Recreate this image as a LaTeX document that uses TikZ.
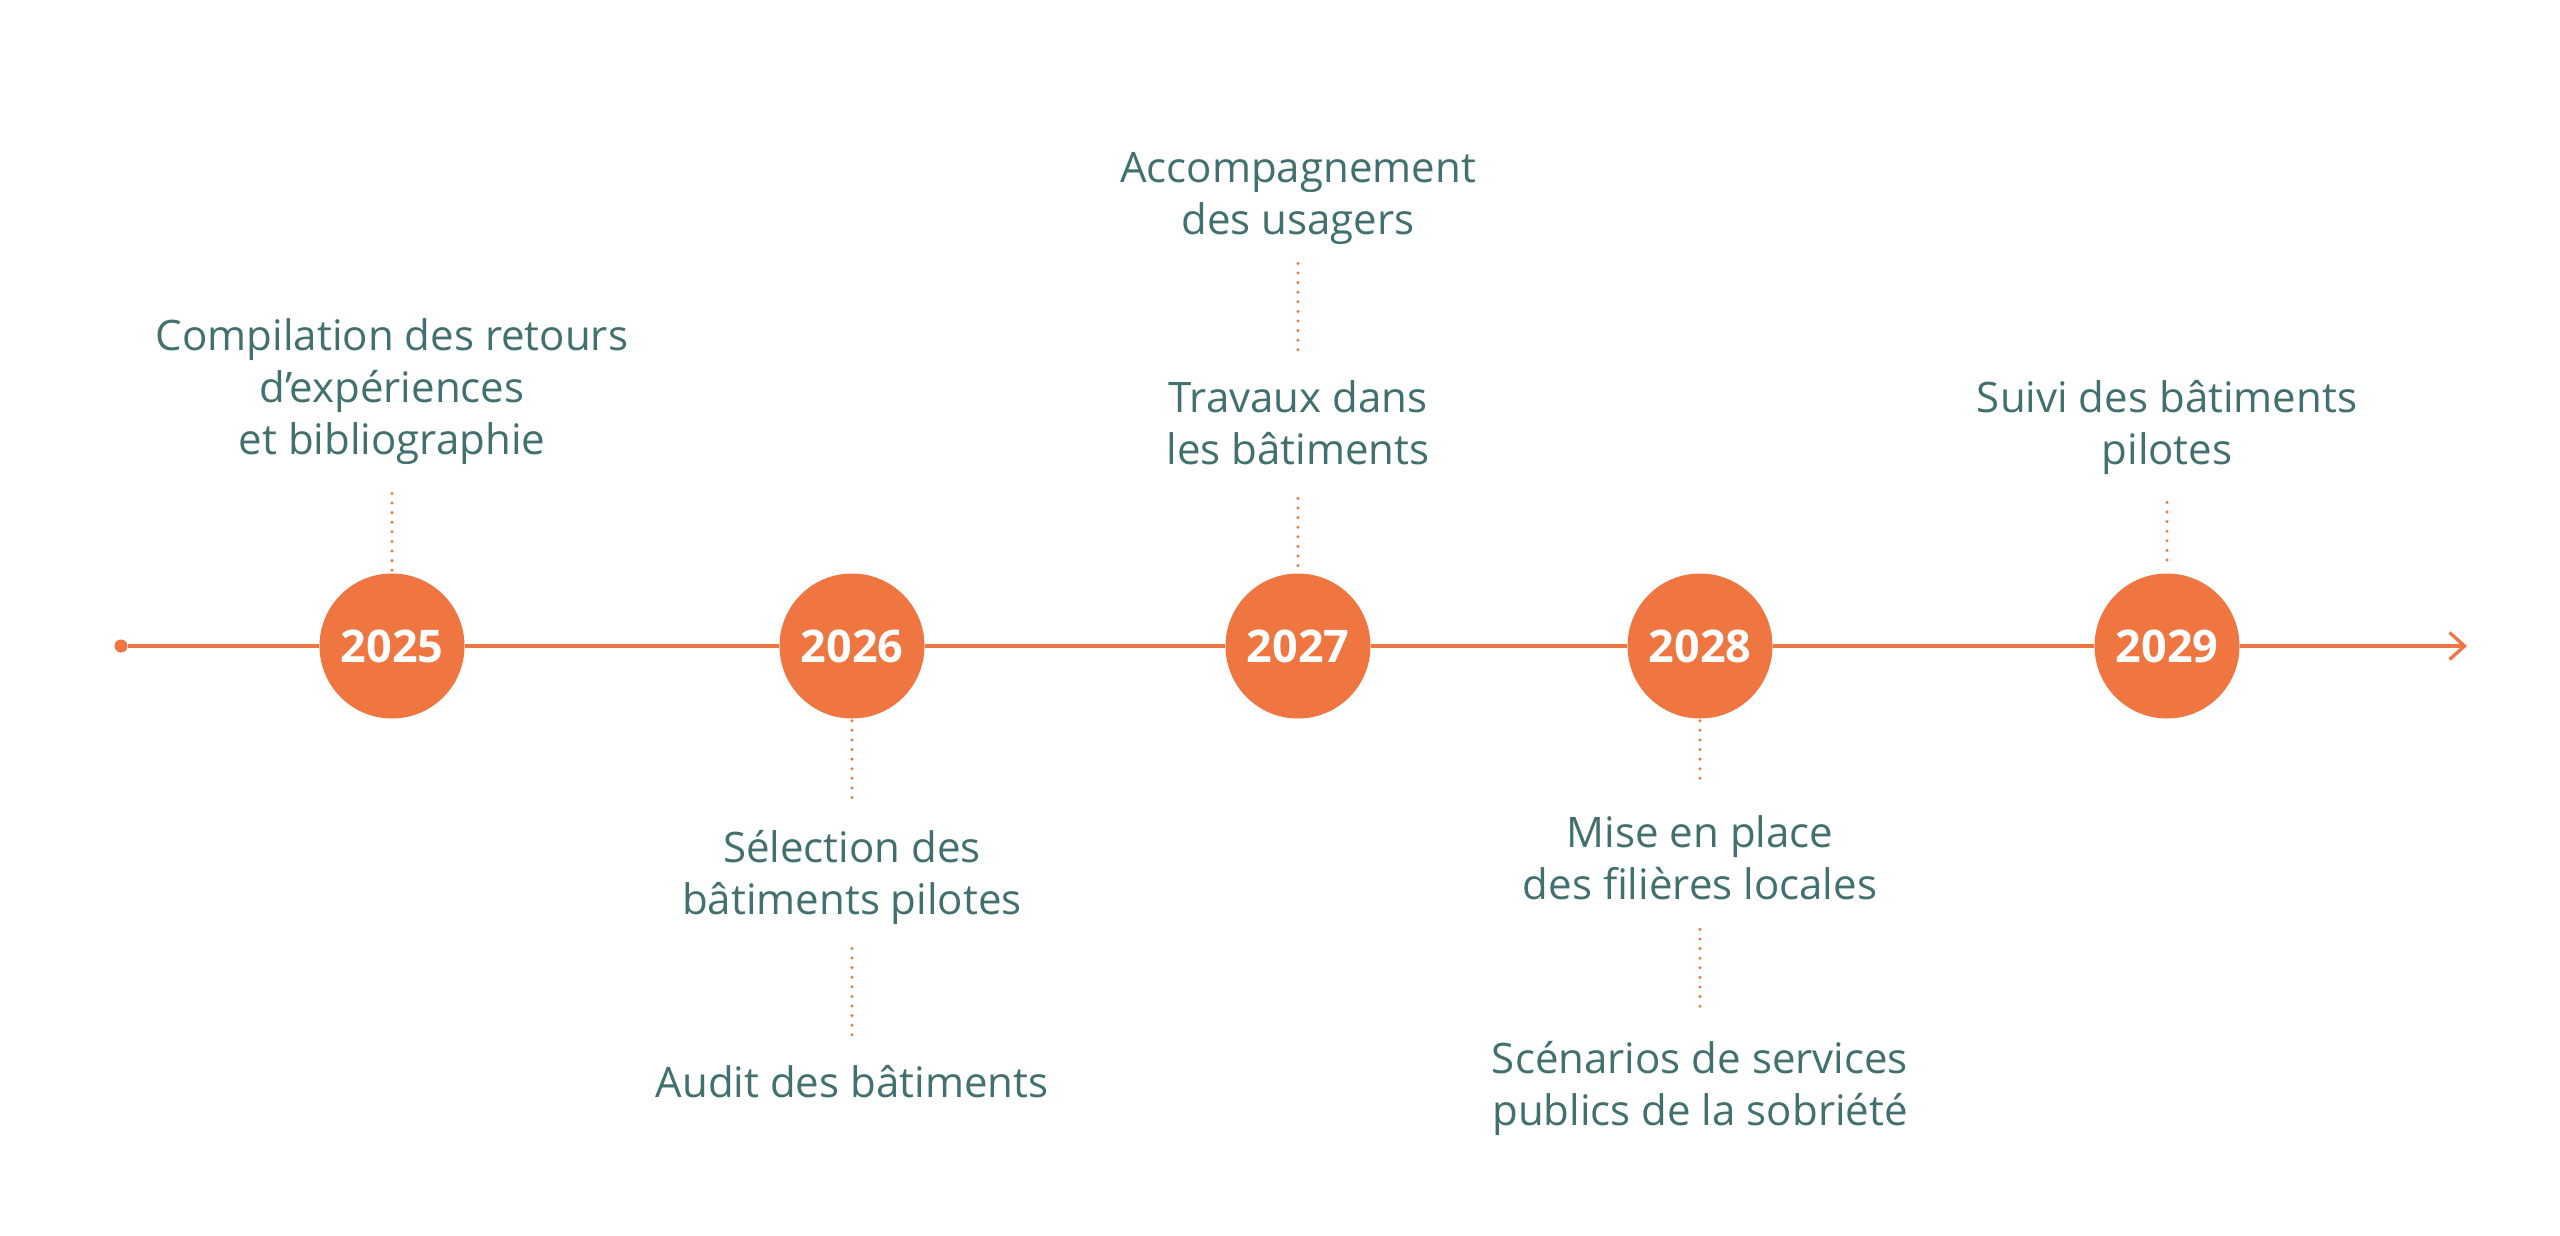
\documentclass[tikz,border=0pt]{standalone}
\usepackage{fontspec}
\setmainfont{Open Sans}
\usetikzlibrary{arrows.meta}
\definecolor{tlorange}{HTML}{EF7641}
\definecolor{tlteal}{HTML}{41706F}
\newcommand{\labfont}{\fontsize{42}{52}\selectfont}
\newcommand{\yearfont}{\fontsize{45}{45}\selectfont\bfseries}
\newcommand{\ls}{\strut}
\begin{document}
\begin{tikzpicture}[x=1pt,y=-1pt,
  yearnode/.style={circle, fill=tlorange, minimum size=145pt, inner sep=0pt, text=white, font=\yearfont},
  tlabel/.style={align=center, text=tlteal, font=\labfont, inner sep=0pt, anchor=north},
  timeline/.style={draw=tlorange, line width=3.3pt},
  dotline/.style={draw=tlorange, line width=3.3pt, line cap=round, dash pattern=on 0pt off 9.6pt}]
\fill[white] (0,0) rectangle (2560,1235);
\useasboundingbox (0,0) rectangle (2560,1235);

% timeline start and end
\node[circle, fill=tlorange, inner sep=0pt, minimum size=13pt] (start) at (121,646) {};
\coordinate (tip) at (2467,646);

% year circles
\node[yearnode] (y2025) at (392,646) {2025};
\node[yearnode] (y2026) at (852,646) {2026};
\node[yearnode] (y2027) at (1298,646) {2027};
\node[yearnode] (y2028) at (1700,646) {2028};
\node[yearnode] (y2029) at (2167,646) {2029};

% timeline segments
\draw[timeline] (start) -- (y2025);
\draw[timeline] (y2025) -- (y2026);
\draw[timeline] (y2026) -- (y2027);
\draw[timeline] (y2027) -- (y2028);
\draw[timeline] (y2028) -- (y2029);
\draw[timeline, -{Straight Barb[length=15pt,width=27pt]}] (y2029) -- (tip);

% labels
\node[tlabel] (lab2025) at (392,313.6) {Compilation des retours\ls\\d’expériences\ls\\et bibliographie\ls};
\node[tlabel] (lab2026a) at (852,825.6) {Sélection des\ls\\bâtiments pilotes\ls};
\node[tlabel] (lab2026b) at (852,1060.6) {Audit des bâtiments\ls};
\node[tlabel] (lab2027a) at (1298,145.6) {Accompagnement\ls\\des usagers\ls};
\node[tlabel] (lab2027b) at (1298,375.6) {Travaux dans\ls\\les bâtiments\ls};
\node[tlabel] (lab2028a) at (1700,810.6) {Mise en place\ls\\des filières locales\ls};
\node[tlabel] (lab2028b) at (1700,1036.6) {Scénarios de services\ls\\publics de la sobriété\ls};
\node[tlabel] (lab2029) at (2167,375.6) {Suivi des bâtiments\ls\\pilotes\ls};

% dotted connectors
\draw[dotline, shorten <=23.4pt, shorten >=2pt] (lab2025.south) -- (y2025.north);
\draw[dotline, shorten <=2pt, shorten >=22.6pt] (y2026.south) -- (lab2026a.north);
\draw[dotline, shorten <=18.4pt, shorten >=23.6pt] (lab2026a.south) -- (lab2026b.north);
\draw[dotline, shorten <=13.4pt, shorten >=25.6pt] (lab2027a.south) -- (lab2027b.north);
\draw[dotline, shorten <=18.4pt, shorten >=4pt] (lab2027b.south) -- (y2027.north);
\draw[dotline, shorten <=2pt, shorten >=25.6pt] (y2028.south) -- (lab2028a.north);
\draw[dotline, shorten <=14.4pt, shorten >=21.6pt] (lab2028a.south) -- (lab2028b.north);
\draw[dotline, shorten <=22.4pt, shorten >=4pt] (lab2029.south) -- (y2029.north);
\end{tikzpicture}
\end{document}
